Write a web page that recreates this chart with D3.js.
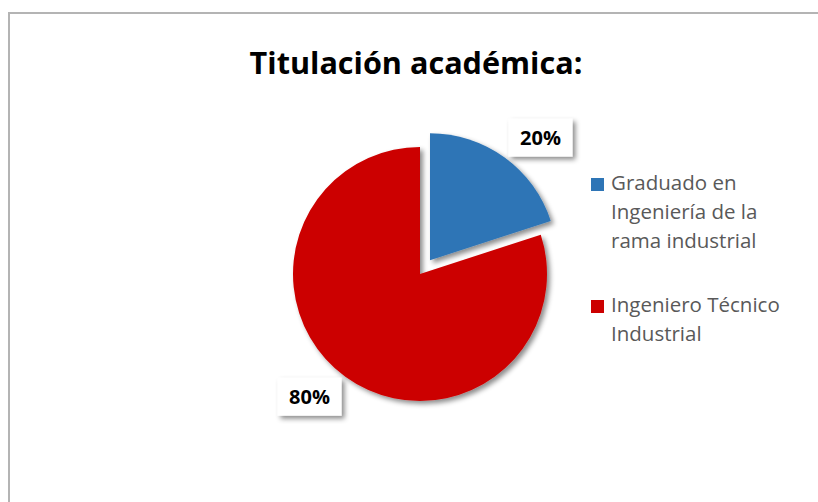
<!DOCTYPE html>
<html>
<head>
<meta charset="utf-8">
<script src="https://cdn.jsdelivr.net/npm/d3@7"></script>
<style>
  body { margin: 0; background: #fff; }
  svg { display: block; }
</style>
</head>
<body>
<script>
var categories = ["Graduado en Ingeniería de la rama industrial", "Ingeniero Técnico Industrial"];
var values = [20, 80];
var legendLines = [["Graduado en", "Ingeniería de la", "rama industrial"], ["Ingeniero Técnico", "Industrial"]];
var colors = ["#2E75B6", "#CC0000"];
var title = "Titulación académica:";

var width = 818, height = 502;
var cx = 420, cy = 274, radius = 127;
var explode = 17; // blue slice pulled out

var svg = d3.select("body").append("svg").attr("width", width).attr("height", height);

var defs = svg.append("defs");
var f = defs.append("filter").attr("id", "shadow").attr("x", "-20%").attr("y", "-20%").attr("width", "150%").attr("height", "150%");
f.append("feDropShadow").attr("dx", 3).attr("dy", 3).attr("stdDeviation", 2.5)
  .attr("flood-color", "#000").attr("flood-opacity", 0.45);

// chart border
svg.append("rect").attr("x", 9).attr("y", 13).attr("width", width + 10).attr("height", height + 10)
  .attr("fill", "#fff").attr("stroke", "#b4b4b4").attr("stroke-width", 2);

// title
var t = svg.append("text").attr("x", 416).attr("y", 74).attr("text-anchor", "middle")
  .style("font-family", "'Open Sans', sans-serif").style("font-weight", "bold")
  .style("font-size", "30px").attr("fill", "#000").text(title);
// fit to the width of the original title
var tw = t.node().getComputedTextLength();
t.style("font-size", (30 * 333 / tw).toFixed(1) + "px");

var pie = d3.pie().sort(null).value(function (d) { return d; });
var arc = d3.arc().innerRadius(0).outerRadius(radius);
var arcs = pie(values);

var g = svg.append("g").attr("transform", "translate(" + cx + "," + cy + ")");

function offset(d, i) {
  if (i !== 0) return [0, 0];
  var a = (d.startAngle + d.endAngle) / 2;
  return [explode * Math.sin(a), -explode * Math.cos(a)];
}

g.selectAll("path.slice").data(arcs).enter().append("path")
  .attr("class", "slice")
  .attr("d", arc)
  .attr("fill", function (d, i) { return colors[i]; })
  .attr("filter", "url(#shadow)")
  .attr("transform", function (d, i) { return "translate(" + offset(d, i) + ")"; });

// data labels with white boxes
var labelR = radius * 1.3;
var lab = g.selectAll("g.lab").data(arcs).enter().append("g").attr("class", "lab")
  .attr("transform", function (d, i) {
    var a = (d.startAngle + d.endAngle) / 2 + 6 * Math.PI / 180;
    var o = offset(d, i);
    return "translate(" + (o[0] + labelR * Math.sin(a)) + "," + (o[1] - labelR * Math.cos(a)) + ")";
  });
lab.append("rect").attr("x", -32).attr("y", -19).attr("width", 64).attr("height", 38)
  .attr("fill", "#fff").attr("filter", "url(#shadow)");
lab.append("text").attr("text-anchor", "middle").attr("dy", "0.36em")
  .style("font-family", "'Open Sans', sans-serif").style("font-weight", "bold").style("font-size", "20px")
  .attr("fill", "#000")
  .text(function (d) { return d.data + "%"; });

// legend
var legendTop = [190, 312];
var leg = svg.selectAll("g.legend").data(categories).enter().append("g").attr("class", "legend");
leg.append("rect").attr("x", 591).attr("y", function (d, i) { return legendTop[i] - 12; })
  .attr("width", 13).attr("height", 13).attr("fill", function (d, i) { return colors[i]; });
leg.each(function (d, i) {
  var txt = d3.select(this).append("text")
    .style("font-family", "'Open Sans', sans-serif").style("font-size", "20.5px").attr("fill", "#595959");
  legendLines[i].forEach(function (line, j) {
    txt.append("tspan").attr("x", 611).attr("y", legendTop[i] + j * 29).text(line);
  });
});
</script>
</body>
</html>
